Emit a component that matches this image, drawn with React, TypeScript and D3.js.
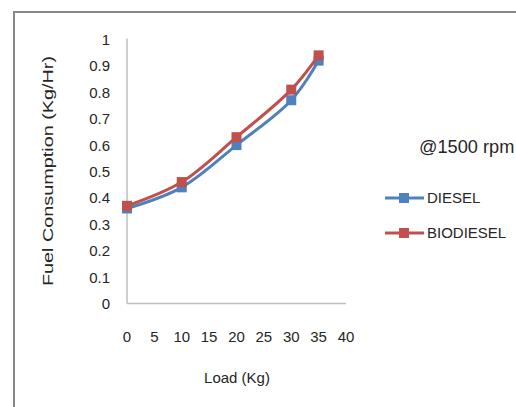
import React from "react";
import * as d3 from "d3";

const loads = [0, 10, 20, 30, 35];
const diesel = [0.36, 0.44, 0.6, 0.77, 0.92];
const biodiesel = [0.37, 0.46, 0.63, 0.81, 0.94];
const xTicks = [0, 5, 10, 15, 20, 25, 30, 35, 40];
const yTicks = [0, 0.1, 0.2, 0.3, 0.4, 0.5, 0.6, 0.7, 0.8, 0.9, 1];
const seriesNames = ["DIESEL", "BIODIESEL"];
const seriesColors = ["#4F81BD", "#C0504D"];

const W = 516;
const H = 407;
const FONT = "'Liberation Sans', Arial, sans-serif";

export default function App() {
  const x = d3.scaleLinear().domain([0, 40]).range([127, 346]);
  const y = d3.scaleLinear().domain([0, 1]).range([303.5, 39.5]);
  const line = d3
    .line<[number, number]>()
    .x((d) => x(d[0]))
    .y((d) => y(d[1]))
    .curve(d3.curveCatmullRom.alpha(0.5));

  const series = [diesel, biodiesel].map((vals, i) => ({
    name: seriesNames[i],
    color: seriesColors[i],
    pts: loads.map((l, j) => [l, vals[j]] as [number, number]),
  }));

  return (
    <svg
      width={W}
      height={H}
      style={{ position: "absolute", left: 0, top: 0, display: "block" }}
      fontFamily={FONT}
    >
      <rect x={0} y={0} width={W} height={H} fill="#fff" />
      {/* chart frame */}
      <path d={`M14,${H} V12 H${W}`} fill="none" stroke="#878787" strokeWidth={2} />

      {/* axes */}
      <line x1={x(0)} x2={x(0)} y1={y(1) - 1} y2={y(0)} stroke="#BFBFBF" strokeWidth={1.5} />
      <line x1={x(0)} x2={x(40)} y1={y(0)} y2={y(0)} stroke="#BFBFBF" strokeWidth={1.5} />

      {yTicks.map((t) => (
        <text
          key={t}
          x={110}
          y={y(t)}
          dy="0.36em"
          textAnchor="end"
          fontSize={15}
          fill="#262626"
        >
          {String(t)}
        </text>
      ))}
      {xTicks.map((t) => (
        <text
          key={t}
          x={x(t)}
          y={337}
          dy="0.36em"
          textAnchor="middle"
          fontSize={15}
          fill="#262626"
        >
          {String(t)}
        </text>
      ))}

      <text x={237} y={378} dy="0.36em" textAnchor="middle" fontSize={15} fill="#262626">
        Load (Kg)
      </text>
      <text
        transform="translate(48,171) rotate(-90)"
        dy="0.36em"
        textAnchor="middle"
        fontSize={15}
        fill="#262626"
        textLength={230}
        lengthAdjust="spacingAndGlyphs"
      >
        Fuel Consumption (Kg/Hr)
      </text>

      {/* series */}
      {series.map((s) => (
        <g key={s.name}>
          <path d={line(s.pts) || ""} fill="none" stroke={s.color} strokeWidth={3} />
          {s.pts.map((p, j) => (
            <rect
              key={j}
              x={x(p[0]) - 5}
              y={y(p[1]) - 5}
              width={10}
              height={10}
              fill={s.color}
            />
          ))}
        </g>
      ))}

      <text x={419} y={146} dy="0.36em" fontSize={18.2} fill="#262626">
        @1500 rpm
      </text>

      {/* legend */}
      {series.map((s, i) => {
        const ly = 198 + i * 35;
        return (
          <g key={s.name}>
            <line x1={385} x2={424} y1={ly} y2={ly} stroke={s.color} strokeWidth={3} />
            <rect x={399} y={ly - 5} width={10} height={10} fill={s.color} />
            <text x={427} y={ly} dy="0.36em" fontSize={15} fill="#262626">
              {s.name}
            </text>
          </g>
        );
      })}
    </svg>
  );
}
